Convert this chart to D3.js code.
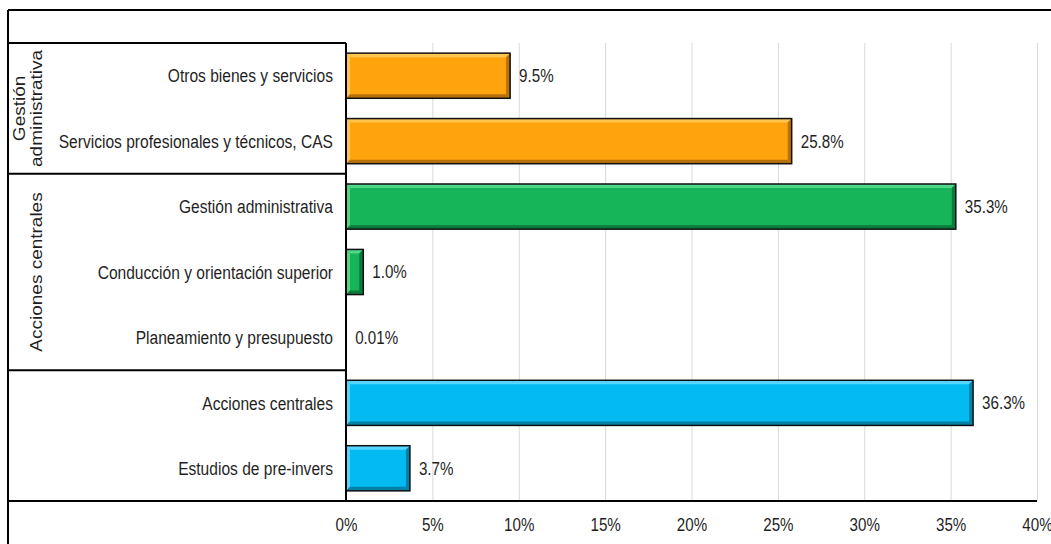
<!DOCTYPE html>
<html>
<head>
<meta charset="utf-8">
<script src="https://cdn.jsdelivr.net/npm/d3@7"></script>
<style>
  html, body { margin: 0; padding: 0; background: #fff; }
  svg { display: block; font-family: "Liberation Sans", Arial, sans-serif; }
</style>
</head>
<body>
<svg id="chart" width="1051" height="544"></svg>
<script>
const categories = [
  "Otros bienes y servicios",
  "Servicios profesionales y técnicos, CAS",
  "Gestión administrativa",
  "Conducción y orientación superior",
  "Planeamiento y presupuesto",
  "Acciones centrales",
  "Estudios de pre-invers"
];
const values = [9.5, 25.8, 35.3, 1.0, 0.01, 36.3, 3.7];
const valueLabels = ["9.5%", "25.8%", "35.3%", "1.0%", "0.01%", "36.3%", "3.7%"];
const groupNames = [["Gestión", "administrativa"], ["Acciones centrales"], []];
const groupSizes = [2, 3, 2];
const groupColors = [
  { base: "#ffa40c", light: "#ffc551", dark: "#b7700a" },
  { base: "#17b55a", light: "#4fd687", dark: "#0b7a3a" },
  { base: "#03bbf1", light: "#55d6ff", dark: "#0581a8" }
];
const xTicks = [0, 5, 10, 15, 20, 25, 30, 35, 40];

const SX = 0.82; // the picture's text is horizontally condensed
const svg = d3.select("#chart");

const plotLeft = 346, plotRight = 1037, plotTop = 43, plotBottom = 501;

const x = d3.scaleLinear().domain([0, 40]).range([plotLeft, plotRight]);
const y = d3.scaleBand().domain(categories).range([plotTop, plotBottom])
  .paddingInner(0.31).paddingOuter(0.155);
const gap = (y.step() - y.bandwidth()) / 2;

// which group each category sits in
const catGroup = [];
groupSizes.forEach((n, g) => { for (let i = 0; i < n; i++) catGroup.push(g); });

// gridlines
const grid = svg.append("g")
  .attr("transform", `translate(0,${plotBottom})`)
  .call(d3.axisBottom(x).tickValues(xTicks.slice(1)).tickSize(-(plotBottom - plotTop)).tickFormat(""));
grid.select(".domain").remove();
grid.selectAll("line").attr("stroke", "#d9d9d9").attr("stroke-width", 1);

// x tick labels
const xAxis = svg.append("g")
  .attr("transform", `translate(0,${plotBottom})`)
  .call(d3.axisBottom(x).tickValues(xTicks).tickSize(0).tickPadding(17).tickFormat(d => d + "%"));
xAxis.select(".domain").remove();
xAxis.selectAll("text")
  .attr("transform", `scale(${SX},1)`)
  .attr("font-size", 18.5)
  .attr("font-family", "'Liberation Sans', Arial, sans-serif")
  .attr("fill", "#1f1f1f");

// category labels
const yAxis = svg.append("g")
  .attr("transform", `translate(${plotLeft},0)`)
  .call(d3.axisLeft(y).tickSize(0));
yAxis.select(".domain").remove();
yAxis.selectAll("text")
  .attr("x", -13 / SX)
  .attr("dy", "0.35em")
  .attr("transform", `scale(${SX},1)`)
  .attr("font-size", 19)
  .attr("font-family", "'Liberation Sans', Arial, sans-serif")
  .attr("fill", "#1f1f1f");

// bars with bevel
const bars = svg.append("g");
categories.forEach((c, i) => {
  const col = groupColors[catGroup[i]];
  const x0 = x(0), x1 = x(values[i]);
  const y0 = y(c), y1 = y(c) + y.bandwidth();
  const w = x1 - x0;
  const b = Math.min(4, w / 2);
  const g = bars.append("g");
  g.append("rect").attr("x", x0).attr("y", y0).attr("width", w).attr("height", y1 - y0)
    .attr("fill", col.base);
  if (w > 2) {
    const poly = (pts, fill) => g.append("polygon").attr("points", pts.map(p => p.join(",")).join(" ")).attr("fill", fill);
    poly([[x0, y0], [x1, y0], [x1 - b, y0 + b], [x0 + b, y0 + b]], col.light);
    poly([[x0, y0], [x0 + b, y0 + b], [x0 + b, y1 - b], [x0, y1]], col.light);
    poly([[x0, y1], [x0 + b, y1 - b], [x1 - b, y1 - b], [x1, y1]], col.dark);
    poly([[x1, y0], [x1, y1], [x1 - b, y1 - b], [x1 - b, y0 + b]], col.dark);
  }
  g.append("rect").attr("x", x0).attr("y", y0).attr("width", w).attr("height", y1 - y0)
    .attr("fill", "none").attr("stroke", "#111").attr("stroke-width", 1.5);

  // value label
  svg.append("text")
    .attr("transform", `translate(${x1 + 9},${y0 + y.bandwidth() / 2}) scale(${SX},1)`)
    .attr("dy", "0.35em")
    .attr("font-size", 18.5)
    .attr("fill", "#1f1f1f")
    .text(valueLabels[i]);
});

// frame and group table lines
const frame = svg.append("g").attr("stroke", "#000").attr("stroke-width", 2).attr("fill", "none");
frame.append("line").attr("x1", 8).attr("x2", 1051).attr("y1", 10).attr("y2", 10);
frame.append("line").attr("x1", 8).attr("x2", 8).attr("y1", 10).attr("y2", 544);
frame.append("line").attr("x1", 8).attr("x2", plotRight).attr("y1", plotBottom).attr("y2", plotBottom);
frame.append("line").attr("x1", plotLeft).attr("x2", plotLeft).attr("y1", plotTop).attr("y2", plotBottom);

let idx = 0;
const bounds = [];
groupSizes.forEach(n => {
  const start = y(categories[idx]) - gap;
  const end = y(categories[idx + n - 1]) + y.bandwidth() + gap;
  bounds.push([start, end]);
  idx += n;
});
bounds.forEach(([s]) => {
  frame.append("line").attr("x1", 8).attr("x2", plotLeft).attr("y1", s).attr("y2", s);
});

// group labels (rotated)
groupNames.forEach((lines, g) => {
  const cy = (bounds[g][0] + bounds[g][1]) / 2;
  const baseX = lines.length === 2 ? [25, 42] : [42];
  lines.forEach((t, k) => {
    svg.append("text")
      .attr("transform", `translate(${baseX[k]},${cy}) rotate(-90) scale(1,${SX})`)
      .attr("text-anchor", "middle")
      .attr("font-size", 19)
      .attr("fill", "#1f1f1f")
      .text(t);
  });
});
</script>
</body>
</html>
